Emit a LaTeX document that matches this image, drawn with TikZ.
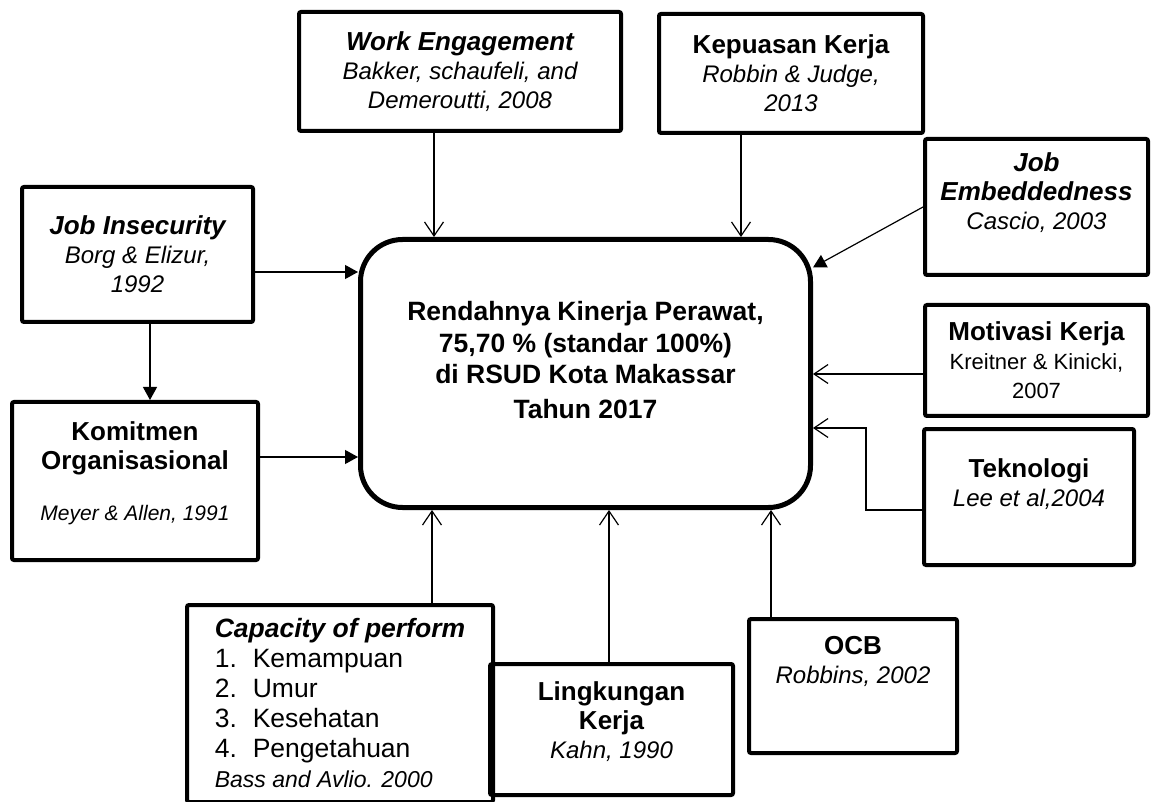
\documentclass[tikz,border=0pt]{standalone}
\usepackage{fontspec}
\setmainfont{Liberation Sans}
\usetikzlibrary{arrows.meta}
\newcommand{\hd}[1]{{\fontsize{13}{14.5}\selectfont\bfseries #1}}
\newcommand{\rf}[1]{{\fontsize{12}{14}\selectfont\itshape #1}}
\newcommand{\lift}[1]{\rule[-#1]{0pt}{#1}}

\begin{document}
\begin{tikzpicture}[x=0.5pt,y=-0.5pt]
    \tikzset{
      box/.style={draw, rectangle, line width=2pt, rounded corners=1pt, align=center, inner sep=0pt, font=\fontsize{13}{14.5}\selectfont},
      perfbox/.style={draw, rectangle, line width=2.5pt, rounded corners=21pt, align=center, inner sep=0pt, font=\fontsize{13.25}{15.75}\selectfont\bfseries},
      line/.style={draw, line width=0.6pt, -{Straight Barb[length=7pt,width=9.5pt]}},
      fline/.style={draw, line width=0.6pt, -{Triangle[length=6.5pt,width=7pt]}}
    }
    \useasboundingbox (0,0) rectangle (1152,802);
    \node [perfbox, minimum width=225pt, minimum height=134pt] at (585.5,373.5) (perf) {Rendahnya Kinerja Perawat,\\ 75,70 \% (standar 100\%)\\ di RSUD Kota Makassar\\[1.5pt] Tahun 2017\lift{13.5pt}};
    \node [box, minimum width=161pt, minimum height=59.5pt] at (460,71.5) (we) {\hd{\itshape Work Engagement}\\ \rf{Bakker, schaufeli, and}\\ \rf{Demeroutti, 2008}};
    \node [box, minimum width=132pt, minimum height=59.5pt] at (791,73.5) (kep) {\hd{Kepuasan Kerja}\\ \rf{Robbin \& Judge,}\\ \rf{2013}};
    \node [box, minimum width=111.5pt, minimum height=68pt] at (1036.5,207) (emb) {\hd{\itshape Job}\\ \hd{\itshape Embeddedness}\\ \rf{Cascio, 2003}\lift{15.5pt}};
    \node [box, minimum width=111.5pt, minimum height=55.5pt] at (1036.5,360.5) (mot) {\hd{Motivasi Kerja}\\ {\fontsize{11}{13}\selectfont Kreitner \& Kinicki,}\\ {\fontsize{11}{13}\selectfont 2007}};
    \node [box, minimum width=105pt, minimum height=68pt] at (1029,497) (tek) {\hd{Teknologi}\\ \rf{Lee et al,2004}\lift{14pt}};
    \node [box, minimum width=104pt, minimum height=67pt] at (853,686) (ocb) {\hd{OCB}\\ \rf{Robbins, 2002}\lift{26pt}};
    \node [box, minimum width=121.5pt, minimum height=65.5pt] at (611.5,729.5) (ling) {\hd{Lingkungan}\\ \hd{Kerja}\\ \rf{Kahn, 1990}\lift{9.5pt}};
    \node [box, align=left, minimum width=153pt, minimum height=98.5pt, font=\fontsize{13.25}{15}\selectfont] at (340,703.5) (cap) {\textbf{\textit{Capacity of perform}}\\ \makebox[19pt][l]{1.}Kemampuan\\ \makebox[19pt][l]{2.}Umur\\ \makebox[19pt][l]{3.}Kesehatan\\ \makebox[19pt][l]{4.}Pengetahuan\\ {\fontsize{11.5}{15}\selectfont\itshape Bass and Avlio. 2000}};
    \node [box, minimum width=115.5pt, minimum height=67.5pt] at (137.5,254.5) (ins) {\hd{\itshape Job Insecurity}\\ \rf{Borg \& Elizur,}\\ \rf{1992}};
    \node [box, minimum width=123pt, minimum height=79pt] at (135,481) (kom) {\hd{Komitmen}\\ \hd{Organisasional}\\[11pt] {\fontsize{10.5}{12}\selectfont\itshape Meyer \& Allen, 1991}\lift{9.5pt}};

    % arrows into the performance box
    \path [line] ([xshift=-13pt]we.south) -- ([xshift=-13pt]we.south |- perf.north);
    \path [line] ([xshift=-25pt]kep.south) -- ([xshift=-25pt]kep.south |- perf.north);
    \path [fline] (emb.west) -- (perf.25);
    \path [line] ([yshift=-6.75pt]mot.west) -- ([yshift=-6.75pt]mot.west -| perf.east);
    \path [line] ([yshift=-6.5pt]tek.west) -- ++(-56,0) |- ([yshift=-27.25pt]perf.east);
    \path [line] ([xshift=-41pt]ocb.north) -- ([xshift=-41pt]ocb.north |- perf.south);
    \path [line] ([xshift=-1.25pt]ling.north) -- ([xshift=-1.25pt]ling.north |- perf.south);
    \path [line] ([xshift=46pt]cap.north) -- ([xshift=46pt]cap.north |- perf.south);
    \path [fline] ([yshift=-8.75pt]ins.east) -- ([yshift=-8.75pt]ins.east -| perf.west);
    \path [fline] ([yshift=12pt]kom.east) -- ([yshift=12pt]kom.east -| perf.west);
    \path [fline] ([xshift=6.25pt]ins.south) -- ([xshift=6.25pt]ins.south |- kom.north);
\end{tikzpicture}
\end{document}
